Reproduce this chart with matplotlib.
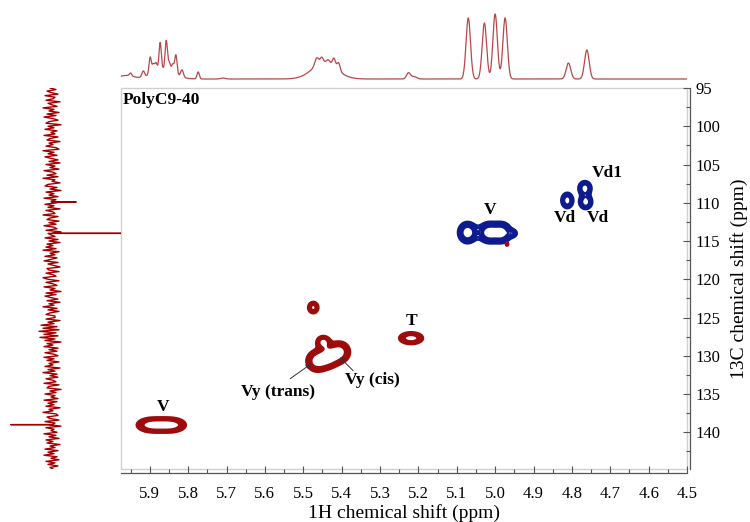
import numpy as np
import matplotlib.pyplot as plt
from matplotlib.patches import Rectangle
from matplotlib.ticker import MultipleLocator

plt.rcParams['font.family'] = ['Liberation Serif', 'DejaVu Serif']

# 1H projection (top): peak centre (ppm), height, gaussian sigma (ppm)
h1_ppm = [5.962, 5.950, 5.917, 5.899, 5.891, 5.884, 5.873, 5.857, 5.849, 5.840,
          5.832, 5.816, 5.865, 5.774, 5.709,
          5.445, 5.465, 5.452, 5.435, 5.420, 5.408,
          5.226, 5.212,
          5.070, 5.028, 5.000, 4.974,
          4.809, 4.761]
h1_height = [3.5, 3.0, 6, 17, 8, 8, 27, 29, 8, 8,
             19, 7, 10, 7, 1,
             16, 8, 6, 4, 9, 8,
             6, 2.5,
             61, 56, 65, 61,
             16, 29]
h1_sigma = [0.02, 0.003, 0.0035, 0.003, 0.003, 0.003, 0.003, 0.003, 0.003, 0.003,
            0.003, 0.0035, 0.028, 0.003, 0.006,
            0.032, 0.005, 0.004, 0.005, 0.004, 0.004,
            0.005, 0.007,
            0.0058, 0.0058, 0.0058, 0.0058,
            0.006, 0.006]

# 13C projection (left): noise trace, top to bottom, plus the three real lines
c13_noise = [
    2, -4, 5, 1, -6, 7, -3, -1, 6, -8, 4, 0, -5, 9, -2, 3, -7, 5, -4, 8, -1, -6, 3, 6, -9,
    4, -2, 7, -5, 1, -3, 8, -6, 2, 5, -8, 3, -1, 6, -4, -7, 9, -2, 4, -5, 7, 1, -6, 3, -8,
    6, -3, 2, -7, 8, -1, -4, 5, -6, 9, -3, 0, -8, 4, 7, -5, 2, -9, 6, -2, 3, -6, 8, -4, 1,
    -5, 7, -2, 4, -8, 6, -1, -3, 9, -6, 2, 5, -7, 3, -4, 8, -2, -5, 6, -9, 4, 1, -3, 7, -6,
    3, -8, 5, -1, 6, -4, 9, -7, 2, -3, 7, -5, 1, 8, -6, 4, -2, -8, 5, 3, -7, 6, -1, -4, 9,
    4, -7, 6, -1, -5, 8, -3, 2, -9, 6, -4, 7, 1, -6, 5, -8, 3, -2, 9, -5, 4, -7, 2, 6, -3,
    -3, 6, -8, 4, -2, 11, -5, 9, -7, 13, -4, 8, -6, 12, -3, 7, -9, 5, -1, 8, -6, 3, -5, 7, -2,
    -6, 8, -2, 5, -7, 3, -1, 7, -8, 4, -3, 9, -5, 2, -6, 6, -1, -4, 8, -7, 3, 5, -9, 2, -4,
    7, -3, 1, -6, 8, -5, 4, -2, 6, -8, 3, -1, 9, -4, -6, 5, 2, -7, 7, -3, 4, -9, 6, -2, 1,
    -5, 8, -4, 3, -7, 6, -1, 5, -8, 2, -3, 7, -6, 4, -2, 8, -5, 1, -7, 6, -3, 4, -6, 2, -1,
]
c13_line_ppm = [109.9, 114.0, 139.0]
c13_line_int = [-24, -90, 41]

# HSQC cross peaks: 1H (ppm), 13C (ppm), amplitude, sigma 1H, sigma 13C
pos_h = [5.895, 5.845, 5.474, 5.465, 5.435, 5.405, 5.448, 5.219, 4.969]
pos_c = [139.05, 139.05, 123.7, 130.7, 130.2, 129.5, 128.2, 127.7, 115.4]
pos_amp = [1.0, 1.0, 0.9, 0.9, 0.9, 0.9, 1.0, 1.0, 0.5]
pos_sh = [0.025, 0.025, 0.009, 0.018, 0.018, 0.018, 0.011, 0.02, 0.003]
pos_sc = [0.6, 0.6, 0.5, 0.9, 0.9, 0.9, 0.5, 0.5, 0.2]

neg_h = [5.072, 5.018, 4.982, 4.953, 4.812, 4.764, 4.766]
neg_c = [113.9, 113.9, 113.9, 114.0, 109.7, 109.9, 108.1]
neg_amp = [1.0, 0.9, 0.9, 0.45, 1.0, 1.0, 1.0]
neg_sh = [0.016, 0.017, 0.017, 0.008, 0.01, 0.011, 0.011]
neg_sc = [0.9, 0.9, 0.9, 0.35, 0.65, 0.6, 0.6]

# peak assignments
lab_text = ['V', 'Vd1', 'Vd', 'Vd', 'T', 'V', 'Vy (trans)', 'Vy (cis)']
lab_h = [5.013, 4.708, 4.818, 4.732, 5.219, 5.866, 5.566, 5.321]
lab_c = [111.0, 106.1, 112.0, 112.0, 125.5, 136.75, 134.8, 133.2]

RED = '#9e0b0b'
BLUE = '#0d1b8e'


def gauss2d(H, C, h, c, a, sh, sc):
    Z = np.zeros_like(H)
    for hi, ci, ai, shi, sci in zip(h, c, a, sh, sc):
        Z += ai * np.exp(-(H - hi)**2 / (2 * shi**2) - (C - ci)**2 / (2 * sci**2))
    return Z


fig = plt.figure(figsize=(7.5, 5.22), dpi=100)
L, B, W, Hh = 121/750, 53/522, 566/750, 381/522
ax = fig.add_axes([L, B, W, Hh])
ax_top = fig.add_axes([L, 1 - 86/522, W, 86/522])
ax_left = fig.add_axes([0, B, L, Hh])

# contour map
hh = np.linspace(5.975, 4.5, 1200)
cc = np.linspace(95, 145, 900)
HG, CG = np.meshgrid(hh, cc)
Zp = gauss2d(HG, CG, pos_h, pos_c, pos_amp, pos_sh, pos_sc)
Zn = gauss2d(HG, CG, neg_h, neg_c, neg_amp, neg_sh, neg_sc)
levels = [0.3, 0.4, 0.5, 0.6, 0.7]
ax.contour(HG, CG, Zn, levels=levels, colors=BLUE, linewidths=1.8)
ax.contour(HG, CG, Zp, levels=levels, colors=RED, linewidths=1.8)

for t, x, y in zip(lab_text, lab_h, lab_c):
    ax.text(x, y, t, ha='center', va='center', fontsize=12.5, fontweight='bold')
ax.annotate('', xy=(5.474, 130.86), xytext=(5.54, 133.2),
            arrowprops=dict(arrowstyle='-|>', color='#333333', lw=0.7, mutation_scale=7))
ax.annotate('', xy=(5.41, 129.95), xytext=(5.365, 132.2),
            arrowprops=dict(arrowstyle='-|>', color='#333333', lw=0.7, mutation_scale=7))
ax.text(5.97, 96.6, 'PolyC9-40', ha='left', va='center', fontsize=12.5, fontweight='bold')

ax.set_xlim(5.975, 4.5)
ax.set_ylim(144.8, 95)
ax.add_patch(Rectangle((0, 0), 1, 1, transform=ax.transAxes, fill=False,
                       ec='#d0d0d0', lw=1, clip_on=False))
for s in ['left', 'top']:
    ax.spines[s].set_visible(False)
ax.spines['bottom'].set_position(('outward', 3))
ax.spines['right'].set_position(('outward', 2))
for s in ['bottom', 'right']:
    ax.spines[s].set_color('#555555')
    ax.spines[s].set_linewidth(0.9)
ax.yaxis.tick_right()
ax.yaxis.set_label_position('right')
ax.xaxis.set_major_locator(MultipleLocator(0.1))
ax.xaxis.set_minor_locator(MultipleLocator(0.05))
ax.yaxis.set_major_locator(MultipleLocator(5))
ax.yaxis.set_minor_locator(MultipleLocator(2.5))
ax.xaxis.set_major_formatter(plt.FormatStrFormatter('%.1f'))
ax.tick_params(which='both', direction='in', color='#555555', width=0.8, labelsize=12)
ax.tick_params(axis='x', which='both', pad=9)
ax.tick_params(axis='y', which='both', pad=4)
ax.tick_params(which='major', length=5)
ax.tick_params(which='minor', length=3)
ax.set_xlabel('1H chemical shift (ppm)', fontsize=14, labelpad=2)
ax.set_ylabel('13C chemical shift (ppm)', fontsize=14, labelpad=7)

# 1H projection
x1 = np.linspace(5.975, 4.5, 3000)
y1 = np.zeros_like(x1)
for p, hgt, sg in zip(h1_ppm, h1_height, h1_sigma):
    y1 += hgt * np.exp(-(x1 - p)**2 / (2 * sg**2))
ax_top.plot(x1, y1, color='#b8474a', lw=0.9)
ax_top.set_xlim(5.975, 4.5)
ax_top.set_ylim(-7, 79)
ax_top.axis('off')

# 13C projection
cppm = list(np.linspace(95, 144.8, len(c13_noise)))
cint = list(c13_noise)
for p, v in zip(c13_line_ppm, c13_line_int):
    i = int(np.searchsorted(cppm, p))
    cppm[i:i] = [p, p, p]
    cint[i:i] = [0, v, 0]
ax_left.plot(cint, cppm, color='#a00000', lw=1.0)
ax_left.set_xlim(52, -69)
ax_left.set_ylim(144.8, 95)
ax_left.axis('off')

fig.savefig('out.png', dpi=100)
